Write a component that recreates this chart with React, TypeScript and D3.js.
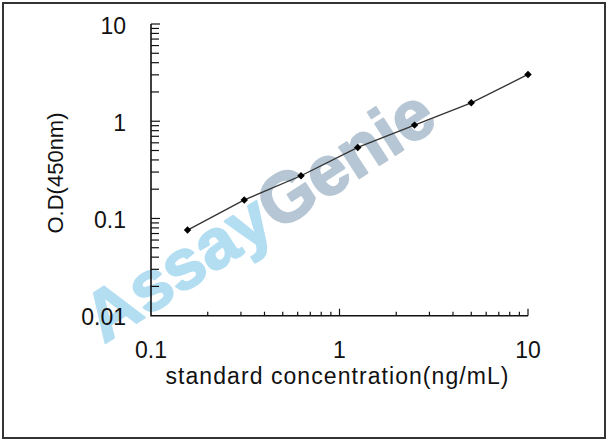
import { useEffect, useRef } from "react";
import * as d3 from "d3";

// standard curve points (ng/mL -> OD450)
const concentrations = [0.15625, 0.3125, 0.625, 1.25, 2.5, 5, 10];
const odValues = [0.076, 0.155, 0.275, 0.538, 0.912, 1.545, 3.03];

const xTickLabels = [0.1, 1, 10];
const yTickLabels = [0.01, 0.1, 1, 10];

const W = 608,
  H = 441;

export default function App() {
  const ref = useRef<SVGSVGElement>(null);

  useEffect(() => {
    const svg = d3.select(ref.current);
    svg.selectAll("*").remove();

    const font = "Arial, 'Liberation Sans', sans-serif";

    const x = d3.scaleLog().domain([0.1, 10]).range([151, 528]);
    const y = d3.scaleLog().domain([0.01, 10]).range([315.7, 24]);

    // white bg + frame
    svg
      .append("rect")
      .attr("x", 0)
      .attr("y", 0)
      .attr("width", W)
      .attr("height", H)
      .attr("fill", "#fff");
    svg
      .append("rect")
      .attr("x", 3)
      .attr("y", 3)
      .attr("width", 602)
      .attr("height", 435)
      .attr("fill", "none")
      .attr("stroke", "#333")
      .attr("stroke-width", 2);

    /* ── WATERMARK ───────────────────────────── */
    const wm = svg
      .append("text")
      .attr("transform", "translate(104,344) rotate(-33)")
      .attr("font-family", font)
      .attr("font-weight", "bold")
      .attr("font-size", 70)
      .attr("stroke-width", 2)
      .attr("stroke-linejoin", "round");
    wm.append("tspan").attr("fill", "#b3def2").attr("stroke", "#b3def2").text("Assay");
    wm.append("tspan").attr("fill", "#b6c6d4").attr("stroke", "#b6c6d4").text("Genie");

    /* ── AXES ─────────────────────────────────── */
    const axes = svg.append("g").attr("stroke", "#111").attr("fill", "none");
    axes
      .append("path")
      .attr("d", `M${x(0.1)},${y(10)}V${y(0.01)}H${x(10)}`)
      .attr("stroke-width", 1.6);

    const xTicks = x.ticks();
    axes
      .selectAll("line.xt")
      .data(xTicks.filter((d) => d > 0.1))
      .join("line")
      .attr("x1", (d) => x(d))
      .attr("x2", (d) => x(d))
      .attr("y1", y(0.01))
      .attr("y2", (d) => y(0.01) - (xTickLabels.includes(d) ? 7 : 4))
      .attr("stroke-width", 1.2);

    const yTicks = y.ticks();
    axes
      .selectAll("line.yt")
      .data(yTicks.filter((d) => d > 0.01))
      .join("line")
      .attr("y1", (d) => y(d))
      .attr("y2", (d) => y(d))
      .attr("x1", x(0.1))
      .attr("x2", (d) => x(0.1) + (yTickLabels.includes(d) ? 9 : 8))
      .attr("stroke-width", 1.2);

    const labels = svg
      .append("g")
      .attr("font-family", font)
      .attr("font-size", 23)
      .attr("fill", "#111");

    labels
      .selectAll("text.xl")
      .data(xTickLabels)
      .join("text")
      .attr("x", (d) => x(d))
      .attr("y", 358)
      .attr("text-anchor", "middle")
      .text((d) => String(d));

    labels
      .selectAll("text.yl")
      .data(yTickLabels)
      .join("text")
      .attr("x", 126)
      .attr("y", (d) => y(d) + 9.5)
      .attr("text-anchor", "end")
      .text((d) => String(d));

    // axis titles
    labels
      .append("text")
      .attr("x", 337)
      .attr("y", 384)
      .attr("text-anchor", "middle")
      .attr("font-size", 23)
      .attr("textLength", 343)
      .text("standard concentration(ng/mL)");

    labels
      .append("text")
      .attr("transform", "translate(63,173) rotate(-90)")
      .attr("text-anchor", "middle")
      .attr("font-size", 22)
      .text("O.D(450nm)");

    /* ── CURVE + MARKERS ─────────────────────── */
    const pts = concentrations.map((c, i) => [c, odValues[i]] as [number, number]);
    const line = d3
      .line<[number, number]>()
      .x((d) => x(d[0]))
      .y((d) => y(d[1]));

    svg
      .append("path")
      .datum(pts)
      .attr("d", line)
      .attr("fill", "none")
      .attr("stroke", "#333")
      .attr("stroke-width", 1.3);

    svg
      .selectAll("path.mk")
      .data(pts)
      .join("path")
      .attr("d", d3.symbol(d3.symbolSquare, 28)())
      .attr("transform", (d) => `translate(${x(d[0])},${y(d[1])}) rotate(45)`)
      .attr("fill", "#000");
  }, []);

  return (
    <div style={{ position: "fixed", left: 0, top: 0 }}>
      <svg ref={ref} width={W} height={H} style={{ display: "block" }} />
    </div>
  );
}
